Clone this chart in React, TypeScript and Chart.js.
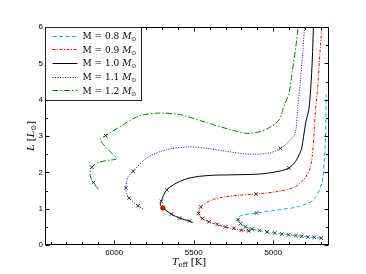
import React, { useEffect, useRef } from "react";
import { Chart, registerables } from "chart.js";

Chart.register(...registerables);

// ---------- data ----------
const massLabels = ["0.8", "0.9", "1.0", "1.1", "1.2"];
const trackColors = ["#00bfbf", "#ff0000", "#000000", "#0000ff", "#008000"];
const trackDashes: number[][] = [[4, 2.5], [3, 1.5, 1, 1.5], [], [1, 1.5], [6, 2, 1.5, 2]];

const teff08 = [4700, 4746, 4781, 4819, 4860, 4902, 4948, 4991, 5037, 5089, 5135, 5173, 5210, 5224, 5216, 5190, 5106, 4964, 4839, 4746, 4694, 4679, 4672, 4668];
const lum08 = [0.19, 0.21, 0.22, 0.24, 0.26, 0.28, 0.30, 0.33, 0.36, 0.40, 0.44, 0.50, 0.59, 0.70, 0.78, 0.83, 0.88, 0.97, 1.06, 1.25, 1.71, 2.35, 3.0, 4.15];

const teff09 = [5150, 5200, 5250, 5300, 5352, 5404, 5446, 5466, 5470, 5456, 5420, 5381, 5300, 5214, 5106, 4964, 4860, 4800, 4770, 4756, 4745, 4735, 4720, 4710, 4696];
const lum09 = [0.38, 0.41, 0.45, 0.49, 0.56, 0.64, 0.73, 0.80, 0.88, 1.05, 1.17, 1.25, 1.33, 1.37, 1.40, 1.48, 1.61, 1.85, 2.1, 2.44, 3.0, 3.72, 4.4, 5.09, 5.93];

const teff10 = [5506, 5527, 5589, 5641, 5694, 5710, 5704, 5690, 5669, 5630, 5589, 5530, 5464, 5380, 5277, 5170, 5069, 4964, 4902, 4860, 4838, 4822, 4810, 4795, 4777, 4765, 4755, 4748];
const lum10 = [0.62, 0.66, 0.74, 0.85, 1.02, 1.11, 1.20, 1.37, 1.52, 1.65, 1.75, 1.84, 1.89, 1.92, 1.93, 1.94, 1.96, 2.03, 2.12, 2.30, 2.48, 2.65, 2.98, 3.4, 3.72, 4.3, 5.1, 6.0];

const teff11 = [5819, 5850, 5880, 5906, 5922, 5927, 5922, 5912, 5881, 5798, 5673, 5527, 5402, 5300, 5152, 5027, 4956, 4904, 4862, 4848, 4830, 4815, 4804];
const lum11 = [0.99, 1.08, 1.18, 1.29, 1.42, 1.57, 1.75, 1.89, 2.03, 2.39, 2.62, 2.70, 2.65, 2.58, 2.50, 2.53, 2.66, 2.84, 3.09, 3.72, 4.5, 5.3, 6.0];

const teff12 = [6100, 6131, 6152, 6141, 6100, 6040, 5985, 6037, 6088, 6054, 5944, 5839, 5714, 5589, 5412, 5250, 5150, 5052, 4964, 4935, 4902, 4880, 4860, 4844];
const lum12 = [1.54, 1.72, 1.93, 2.14, 2.27, 2.33, 2.38, 2.62, 2.90, 3.01, 3.31, 3.56, 3.63, 3.59, 3.36, 3.15, 3.07, 3.17, 3.44, 3.8, 4.17, 4.8, 5.4, 6.0];

const trackTeff = [teff08, teff09, teff10, teff11, teff12];
const trackLum = [lum08, lum09, lum10, lum11, lum12];

const markTeff = [
  4699, 4743, 4783, 4821, 4858, 4904, 4946, 4991, 5040, 5088, 5133, 5175, 5206, 5222, 5106,
  5154, 5200, 5248, 5300, 5352, 5404, 5446, 5470, 5456, 5108,
  5527, 5589, 5641, 5704, 5669, 4902,
  5850, 5906, 5927, 5881, 4956,
  6131, 6141, 6054,
];
const markLum = [
  0.19, 0.21, 0.22, 0.24, 0.26, 0.28, 0.30, 0.33, 0.36, 0.40, 0.44, 0.50, 0.59, 0.70, 0.88,
  0.39, 0.41, 0.46, 0.50, 0.57, 0.64, 0.73, 0.87, 1.05, 1.40,
  0.66, 0.74, 0.85, 1.20, 1.52, 2.12,
  1.08, 1.29, 1.57, 2.03, 2.66,
  1.72, 2.14, 3.01,
];

const sunTeff = [5694];
const sunLum = [1.02];

const xMin = 4650;
const xMax = 6435;
const xMajor = [5000, 5500, 6000];
const xMinorStep = 100;
const yMin = 0;
const yMax = 6;
const yMajor = [0, 1, 2, 3, 4, 5, 6];
const yMinorStep = 0.5;

// ---------- helpers ----------
type Piece = { t: string; font: string; dy?: number };

function richWidth(ctx: CanvasRenderingContext2D, pieces: Piece[]) {
  let w = 0;
  for (const p of pieces) {
    ctx.font = p.font;
    w += ctx.measureText(p.t).width;
  }
  return w;
}

function drawRich(ctx: CanvasRenderingContext2D, pieces: Piece[], x: number, y: number) {
  let cx = x;
  for (const p of pieces) {
    ctx.font = p.font;
    ctx.fillText(p.t, cx, y + (p.dy || 0));
    cx += ctx.measureText(p.t).width;
  }
}

const SERIF = "'DejaVu Serif', serif";

const decorPlugin = {
  id: "decor",
  afterDatasetsDraw(chart: any) {
    const ctx: CanvasRenderingContext2D = chart.ctx;
    const a = chart.chartArea;
    const xs = chart.scales.x;
    const ys = chart.scales.y;
    ctx.save();
    ctx.strokeStyle = "#000";
    ctx.lineWidth = 1;
    ctx.setLineDash([]);
    ctx.beginPath();
    const L = Math.round(a.left) + 0.5;
    const R = Math.round(a.right) - 0.5;
    const T = Math.round(a.top) + 0.5;
    const B = Math.round(a.bottom) - 0.5;
    for (let v = Math.ceil(xMin / xMinorStep) * xMinorStep; v <= xMax; v += xMinorStep) {
      const px = Math.round(xs.getPixelForValue(v)) + 0.5;
      const len = xMajor.includes(v) ? 4 : 2.5;
      ctx.moveTo(px, B);
      ctx.lineTo(px, B - len);
      ctx.moveTo(px, T);
      ctx.lineTo(px, T + len);
    }
    for (let v = yMin; v <= yMax + 1e-9; v += yMinorStep) {
      const py = Math.round(ys.getPixelForValue(v)) + 0.5;
      const len = yMajor.includes(v) ? 4 : 2.5;
      ctx.moveTo(L, py);
      ctx.lineTo(L + len, py);
      ctx.moveTo(R, py);
      ctx.lineTo(R - len, py);
    }
    ctx.stroke();
    ctx.strokeRect(L, T, R - L, B - T);

    // legend
    const lx0 = L;
    const ly0 = T;
    const lw = 96;
    const lh = 73;
    ctx.fillStyle = "#fff";
    ctx.fillRect(lx0, ly0, lw, lh);
    ctx.strokeStyle = "#222";
    ctx.strokeRect(lx0, ly0, lw, lh);
    ctx.fillStyle = "#000";
    ctx.textAlign = "left";
    ctx.textBaseline = "alphabetic";
    for (let i = 0; i < massLabels.length; i++) {
      const cy = ly0 + 8 + i * 13.7;
      ctx.save();
      ctx.strokeStyle = trackColors[i];
      ctx.lineWidth = 1;
      ctx.setLineDash(trackDashes[i]);
      ctx.beginPath();
      ctx.moveTo(lx0 + 7, Math.round(cy) + 0.5);
      ctx.lineTo(lx0 + 32, Math.round(cy) + 0.5);
      ctx.stroke();
      ctx.restore();
      const pieces: Piece[] = [
        { t: "M", font: `9px ${SERIF}` },
        { t: " = ", font: `9px ${SERIF}` },
        { t: massLabels[i] + " ", font: `9px ${SERIF}` },
        { t: "M", font: `italic 9px ${SERIF}` },
        { t: "⊙", font: "6px 'DejaVu Sans', sans-serif", dy: 2 },
      ];
      drawRich(ctx, pieces, lx0 + 37, cy + 3.5);
    }

    // x title
    const xt: Piece[] = [
      { t: "T", font: `italic 10px ${SERIF}` },
      { t: "eff", font: `7px ${SERIF}`, dy: 2 },
      { t: " [K]", font: `10px ${SERIF}` },
    ];
    const xw = richWidth(ctx, xt);
    drawRich(ctx, xt, (a.left + a.right) / 2 + 2 - xw / 2, 265);

    // y title
    const yt: Piece[] = [
      { t: "L", font: `italic 10px ${SERIF}` },
      { t: " [", font: `10px ${SERIF}` },
      { t: "L", font: `italic 10px ${SERIF}` },
      { t: "⊙", font: "7px 'DejaVu Sans', sans-serif", dy: 2 },
      { t: "]", font: `10px ${SERIF}` },
    ];
    const yw = richWidth(ctx, yt);
    ctx.translate(34, (a.top + a.bottom) / 2);
    ctx.rotate(-Math.PI / 2);
    drawRich(ctx, yt, -yw / 2, 0);
    ctx.restore();
  },
};

export default function App() {
  const ref = useRef<HTMLCanvasElement | null>(null);
  useEffect(() => {
    if (!ref.current) return;
    const lineSets = trackTeff.map((tf, i) => ({
      type: "line" as const,
      label: "M=" + massLabels[i],
      data: tf.map((t, k) => ({ x: t, y: trackLum[i][k] })),
      borderColor: trackColors[i],
      borderDash: trackDashes[i],
      borderWidth: 1,
      pointRadius: 0,
      fill: false,
      tension: 0.3,
      order: 2,
    }));
    const chart = new Chart(ref.current, {
      type: "scatter",
      data: {
        datasets: [
          {
            type: "scatter" as const,
            label: "sun",
            data: sunTeff.map((t, k) => ({ x: t, y: sunLum[k] })),
            pointStyle: "circle",
            pointRadius: 2.3,
            backgroundColor: "#ff0000",
            borderColor: "#800000",
            borderWidth: 0.6,
            order: 0,
          },
          {
            type: "scatter" as const,
            label: "marks",
            data: markTeff.map((t, k) => ({ x: t, y: markLum[k] })),
            pointStyle: "crossRot",
            pointRadius: 2.5,
            borderColor: "#333",
            backgroundColor: "#333",
            borderWidth: 1,
            order: 1,
          },
          ...lineSets,
        ] as any,
      },
      options: {
        responsive: false,
        animation: false,
        layout: { padding: { left: 0, top: 27, right: 37, bottom: 0 } },
        plugins: { legend: { display: false }, tooltip: { enabled: false } },
        scales: {
          x: {
            type: "linear",
            reverse: true,
            min: xMin,
            max: xMax,
            grid: { display: false, drawTicks: false },
            border: { display: false },
            afterFit: (s: any) => {
              s.height = 29;
            },
            afterBuildTicks: (s: any) => {
              s.ticks = xMajor.map((v) => ({ value: v }));
            },
            ticks: {
              font: { family: "'Liberation Sans', sans-serif", size: 8 },
              color: "#000",
              padding: 3,
              maxRotation: 0,
              autoSkip: false,
              callback: (v: any) => String(v),
            },
          },
          y: {
            type: "linear",
            min: yMin,
            max: yMax,
            grid: { display: false, drawTicks: false },
            border: { display: false },
            afterFit: (s: any) => {
              s.width = 45;
            },
            afterBuildTicks: (s: any) => {
              s.ticks = yMajor.map((v) => ({ value: v }));
            },
            ticks: {
              font: { family: "'Liberation Sans', sans-serif", size: 8 },
              color: "#000",
              padding: 2,
              autoSkip: false,
              callback: (v: any) => String(v),
            },
          },
        },
      } as any,
      plugins: [decorPlugin],
    });
    return () => chart.destroy();
  }, []);
  return (
    <canvas
      ref={ref}
      width={366}
      height={274}
      style={{ position: "fixed", left: 0, top: 0, width: 366, height: 274 }}
    />
  );
}
